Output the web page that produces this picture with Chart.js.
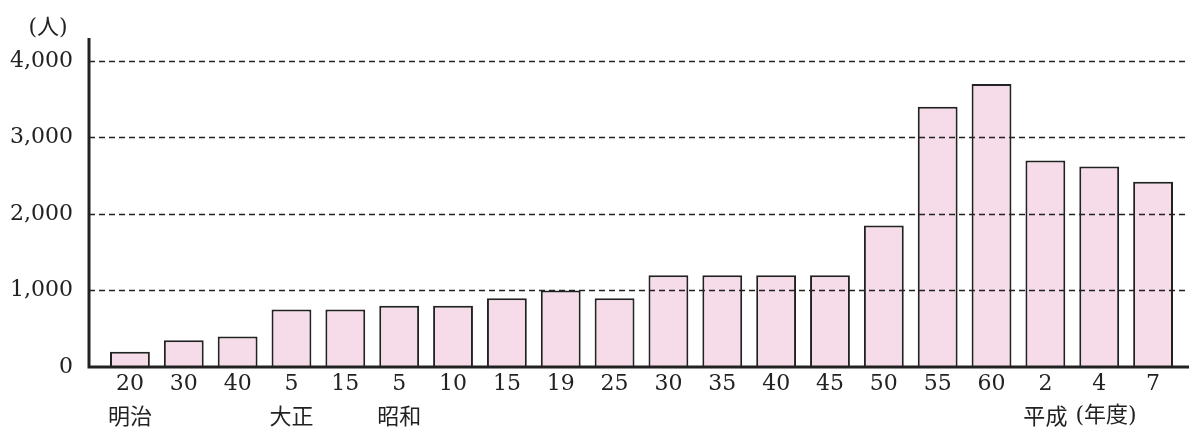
<!DOCTYPE html>
<html>
<head>
<meta charset="utf-8">
<script src="https://cdn.jsdelivr.net/npm/chart.js@4.4.1/dist/chart.umd.min.js"></script>
<style>
  html, body { margin: 0; padding: 0; background: #fff; }
  #wrap { width: 1189px; height: 432px; position: relative; }
</style>
</head>
<body>
<div id="wrap"><canvas id="c"></canvas></div>
<script>
/* ── data ──────────────────────────────────────────────────────── */
const YEARS   = ["20", "30", "40", "5", "15", "5", "10", "15", "19", "25", "30", "35", "40", "45", "50", "55", "60", "2", "4", "7"];
const ERAS    = ["明治", "", "", "大正", "", "昭和", "", "", "", "", "", "", "", "", "", "", "", "平成", "", ""];
const PEOPLE  = [200, 350, 400, 750, 750, 800, 800, 900, 1000, 900, 1200, 1200, 1200, 1200, 1850, 3400, 3700, 2700, 2620, 2420];
const Y_TICKS = [0, 1000, 2000, 3000, 4000];
const Y_MAX   = 4300;
const UNIT_Y  = "(人)";
const UNIT_X  = "(年度)";

const FONT = "'DejaVu Serif', 'Noto Sans CJK JP', serif";
const INK  = "#222";

/* ── axes, dashed grid on top of bars, unit labels ─────────────── */
const frame = {
  id: "frame",
  afterDatasetsDraw(chart) {
    const { ctx, chartArea: a, scales: { x, y } } = chart;
    const axisX = a.left - 14;
    const base = y.getPixelForValue(0);
    ctx.save();

    // dashed gridlines
    ctx.strokeStyle = INK;
    ctx.lineWidth = 1.5;
    ctx.setLineDash([6, 4]);
    y.ticks.forEach((t) => {
      if (t.value <= 0) return;
      const py = Math.round(y.getPixelForValue(t.value)) + 0.5;
      ctx.beginPath();
      ctx.moveTo(axisX, py);
      ctx.lineTo(chart.width, py);
      ctx.stroke();
    });

    // axis lines
    ctx.setLineDash([]);
    ctx.lineWidth = 3;
    ctx.beginPath();
    ctx.moveTo(axisX, a.top);
    ctx.lineTo(axisX, base);
    ctx.lineTo(chart.width, base);
    ctx.stroke();

    // unit labels
    ctx.fillStyle = INK;
    ctx.font = `22px ${FONT}`;
    ctx.textBaseline = "middle";
    ctx.textAlign = "center";
    ctx.fillText(UNIT_Y, 48, 28);

    const iHeisei = ERAS.indexOf("平成");
    const hx = x.getPixelForValue(iHeisei);
    const hw = ctx.measureText(ERAS[iHeisei]).width;
    ctx.textAlign = "left";
    ctx.fillText(UNIT_X, hx + hw / 2 + 8, 416);
    ctx.restore();
  },
};

new Chart(document.getElementById("c"), {
  type: "bar",
  data: {
    labels: YEARS.map((yr, i) => [yr, ERAS[i]]),
    datasets: [{
      data: PEOPLE,
      backgroundColor: "#f6dbe8",
      borderColor: INK,
      borderWidth: 2,
      borderSkipped: "bottom",
      categoryPercentage: 1,
      barPercentage: 0.74,
    }],
  },
  options: {
    responsive: true,
    maintainAspectRatio: false,
    animation: false,
    layout: { padding: { top: 38, right: 9, left: 0, bottom: 0 } },
    plugins: { legend: { display: false }, tooltip: { enabled: false } },
    scales: {
      x: {
        grid: { display: false },
        border: { display: false },
        ticks: {
          color: INK,
          font: { family: FONT, size: 22, lineHeight: 1.52 },
          padding: -7,
          maxRotation: 0,
          autoSkip: false,
        },
        afterFit: (s) => { s.height = 65; },
      },
      y: {
        min: 0,
        max: Y_MAX,
        grid: { display: false },
        border: { display: false },
        afterBuildTicks: (s) => { s.ticks = Y_TICKS.map((v) => ({ value: v })); },
        ticks: {
          color: INK,
          font: { family: FONT, size: 22 },
          padding: 22,
          callback: (v) => v.toLocaleString("en-US"),
        },
        afterFit: (s) => { s.width = 103; },
      },
    },
  },
  plugins: [frame],
});
</script>
</body>
</html>
